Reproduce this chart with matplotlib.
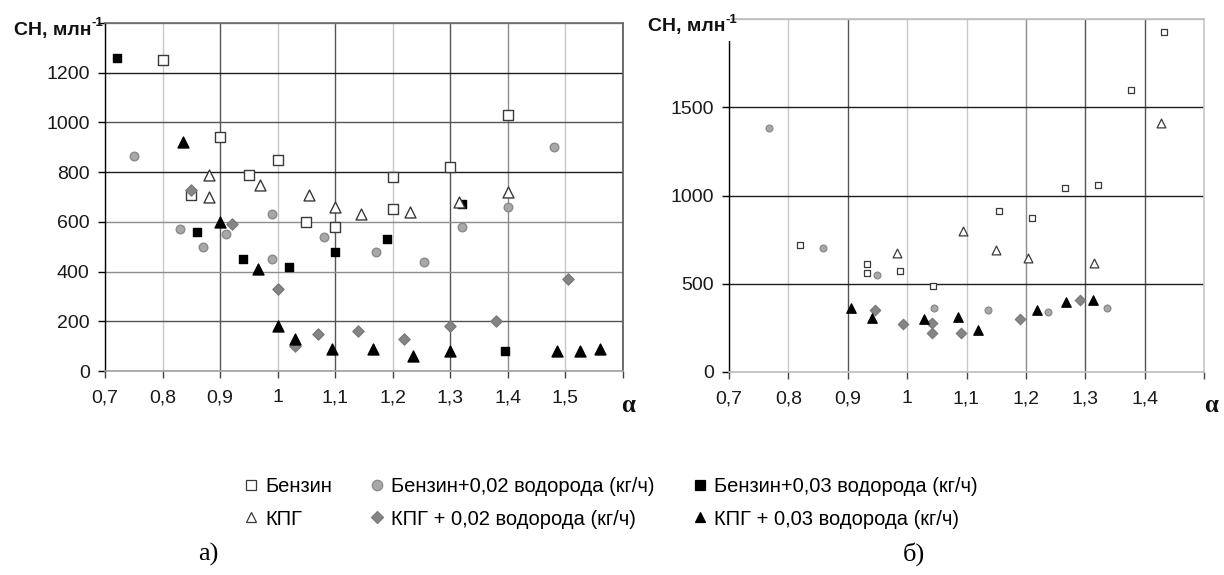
import matplotlib
matplotlib.use("Agg")
import matplotlib.pyplot as plt
from matplotlib.lines import Line2D

plt.rcParams["font.family"] = ["Liberation Sans", "DejaVu Sans"]

# ---- panel а) ----
a_benz_x = [0.80, 0.85, 0.90, 0.95, 1.00, 1.05, 1.10, 1.20, 1.20, 1.30, 1.40]
a_benz_y = [1250, 710, 940, 790, 850, 600, 580, 780, 650, 820, 1030]
a_benz002_x = [0.75, 0.83, 0.87, 0.91, 0.99, 0.99, 1.08, 1.17, 1.255, 1.32, 1.40, 1.48]
a_benz002_y = [865, 570, 500, 550, 630, 450, 540, 480, 440, 580, 660, 900]
a_benz003_x = [0.72, 0.86, 0.94, 1.02, 1.10, 1.19, 1.32, 1.395]
a_benz003_y = [1260, 560, 450, 420, 480, 530, 670, 80]
a_kpg_x = [0.88, 0.88, 0.97, 1.055, 1.10, 1.145, 1.23, 1.315, 1.40]
a_kpg_y = [790, 700, 750, 710, 660, 630, 640, 680, 720]
a_kpg002_x = [0.85, 0.92, 1.00, 1.03, 1.07, 1.14, 1.22, 1.30, 1.38, 1.505]
a_kpg002_y = [730, 590, 330, 100, 150, 160, 130, 180, 200, 370]
a_kpg003_x = [0.835, 0.90, 0.965, 1.00, 1.03, 1.095, 1.165, 1.235, 1.30, 1.485, 1.525, 1.56]
a_kpg003_y = [920, 600, 410, 180, 130, 90, 90, 60, 80, 80, 80, 90]

# ---- panel б) ----
b_benz_x = [0.82, 0.932, 0.932, 0.988, 1.043, 1.155, 1.21, 1.266, 1.321, 1.377, 1.433]
b_benz_y = [720, 610, 560, 570, 490, 910, 870, 1040, 1060, 1600, 1925]
b_benz002_x = [0.767, 0.858, 0.949, 1.045, 1.04, 1.136, 1.237, 1.336]
b_benz002_y = [1380, 700, 550, 360, 280, 350, 340, 360]
b_kpg_x = [0.983, 1.094, 1.149, 1.203, 1.314, 1.427]
b_kpg_y = [675, 800, 690, 645, 615, 1410]
b_kpg002_x = [0.946, 0.993, 1.042, 1.042, 1.09, 1.19, 1.291]
b_kpg002_y = [350, 270, 275, 220, 220, 300, 410]
b_kpg003_x = [0.905, 0.941, 1.028, 1.086, 1.119, 1.218, 1.267, 1.313]
b_kpg003_y = [360, 305, 300, 310, 240, 350, 395, 410]

a_xticks = [0.7, 0.8, 0.9, 1.0, 1.1, 1.2, 1.3, 1.4, 1.5, 1.6]
a_xlabels = ["0,7", "0,8", "0,9", "1", "1,1", "1,2", "1,3", "1,4", "1,5", ""]
a_yticks = [0, 200, 400, 600, 800, 1000, 1200, 1400]
a_ylabels = ["0", "200", "400", "600", "800", "1000", "1200", ""]
b_xticks = [0.7, 0.8, 0.9, 1.0, 1.1, 1.2, 1.3, 1.4, 1.5]
b_xlabels = ["0,7", "0,8", "0,9", "1", "1,1", "1,2", "1,3", "1,4", ""]
b_yticks = [0, 500, 1000, 1500, 2000]
b_ylabels = ["0", "500", "1000", "1500", ""]

series_labels = [
    "Бензин",
    "Бензин+0,02 водорода (кг/ч)",
    "Бензин+0,03 водорода (кг/ч)",
    "КПГ",
    "КПГ + 0,02 водорода (кг/ч)",
    "КПГ + 0,03 водорода (кг/ч)",
]

STYLES = [
    dict(marker="s", facecolors="white", edgecolors="#3a3a3a"),
    dict(marker="o", facecolors="#a8a8a8", edgecolors="#8a8a8a"),
    dict(marker="s", facecolors="black", edgecolors="black"),
    dict(marker="^", facecolors="white", edgecolors="#3a3a3a"),
    dict(marker="D", facecolors="#858585", edgecolors="#7a7a7a"),
    dict(marker="^", facecolors="black", edgecolors="black"),
]

W, H = 1224, 575
fig = plt.figure(figsize=(W / 100, H / 100), dpi=100)


def px_axes(x0, y0, x1, y1):
    return fig.add_axes([x0 / W, 1 - y1 / H, (x1 - x0) / W, (y1 - y0) / H])


def style_axes(ax, xt, xl, yt, yl, xlim, ylim, vcols, hcols, top_col, right_col, bottom_col):
    ax.set_xlim(*xlim)
    ax.set_ylim(*ylim)
    ax.set_xticks(xt)
    ax.set_xticklabels(xl)
    ax.set_yticks(yt)
    ax.set_yticklabels(yl)
    ax.grid(True, linewidth=1.0)
    ax.set_axisbelow(True)
    for gl, c in zip(ax.xaxis.get_gridlines(), vcols):
        gl.set_color(c)
    for gl, c in zip(ax.yaxis.get_gridlines(), hcols):
        gl.set_color(c)
    ax.spines["left"].set_color("black")
    ax.spines["left"].set_linewidth(1.0)
    ax.spines["top"].set_color(top_col)
    ax.spines["right"].set_color(right_col)
    ax.spines["bottom"].set_color(bottom_col)
    for s in ("top", "right", "bottom"):
        ax.spines[s].set_linewidth(1.2)
    ax.tick_params(axis="both", direction="out", length=5, width=1.0,
                   labelsize=14, colors="#1a1a1a")
    ax.tick_params(axis="y", pad=6, color="black")
    ax.tick_params(axis="x", pad=8, color="#444444")


LIGHT, MID, DARK, BLACK = "#c8c8c8", "#8c8c8c", "#555555", "#1e1e1e"

ax_a = px_axes(105, 23, 623, 371)
style_axes(ax_a, a_xticks, a_xlabels, a_yticks, a_ylabels, (0.7, 1.6), (0, 1400),
           [LIGHT, LIGHT, DARK, LIGHT, DARK, LIGHT, DARK, MID, LIGHT, DARK],
           [MID, DARK, MID, MID, BLACK, DARK, BLACK, MID],
           "#6a6a6a", "#555555", "#a0a0a0")

ax_b = px_axes(729, 19, 1204, 372)
style_axes(ax_b, b_xticks, b_xlabels, b_yticks, b_ylabels, (0.7, 1.5), (0, 2000),
           [LIGHT, LIGHT, DARK, LIGHT, LIGHT, MID, DARK, DARK, LIGHT],
           [LIGHT, BLACK, BLACK, BLACK, LIGHT],
           "#bdbdbd", "#c8c8c8", "#bdbdbd")

a_data = [(a_benz_x, a_benz_y), (a_benz002_x, a_benz002_y), (a_benz003_x, a_benz003_y),
          (a_kpg_x, a_kpg_y), (a_kpg002_x, a_kpg002_y), (a_kpg003_x, a_kpg003_y)]
a_sizes = [44, 38, 38, 62, 32, 62]
for (x, y), st, s in zip(a_data, STYLES, a_sizes):
    ax_a.scatter(x, y, s=s, linewidths=1.0, zorder=3, clip_on=False, **st)

b_data = [(b_benz_x, b_benz_y), (b_benz002_x, b_benz002_y), None,
          (b_kpg_x, b_kpg_y), (b_kpg002_x, b_kpg002_y), (b_kpg003_x, b_kpg003_y)]
b_sizes = [24, 24, 24, 40, 28, 46]
for d, st, s in zip(b_data, STYLES, b_sizes):
    if d is None:
        continue
    ax_b.scatter(d[0], d[1], s=s, linewidths=0.9, zorder=3, clip_on=False, **st)


# axis titles: "CH, млн" with a raised "-1"
def y_title(x_right, y_mid, boxed):
    kw = dict(fontsize=14, fontweight="bold", color="#111111")
    if boxed:
        kw["bbox"] = dict(facecolor="white", edgecolor="none", pad=4)
    fig.text((x_right - 10) / W, 1 - y_mid / H, "CH, млн", ha="right", va="center", **kw)
    fig.text((x_right - 10) / W, 1 - (y_mid - 7) / H, "-1", ha="left", va="center",
             fontsize=9.5, fontweight="bold", color="#111111")


y_title(101, 30, False)
y_title(735, 27, True)

for xpx in (628, 1211):
    fig.text(xpx / W, 1 - 405 / H, "α", ha="center", va="center", fontsize=18,
             fontweight="bold", family=["Liberation Serif", "DejaVu Serif"], color="#111111")

# legend
handles = []
for st in STYLES:
    handles.append(Line2D([], [], linestyle="none", marker=st["marker"],
                          markerfacecolor=st["facecolors"], markeredgecolor=st["edgecolors"],
                          markersize=7.5 if st["marker"] != "D" else 6.5, markeredgewidth=0.9))
order = [0, 3, 1, 4, 2, 5]
fig.legend([handles[i] for i in order], [series_labels[i] for i in order],
           loc="center", bbox_to_anchor=(611 / W, 1 - 503 / H), ncol=3, frameon=False,
           fontsize=14.5, handlelength=0.7, handletextpad=0.35, columnspacing=1.9,
           labelspacing=0.65, borderaxespad=0)

# panel captions
fig.text(208 / W, 1 - 554 / H, "а)", ha="center", va="center", fontsize=19,
         family=["Liberation Serif", "DejaVu Serif"])
fig.text(914 / W, 1 - 554 / H, "б)", ha="center", va="center", fontsize=19,
         family=["Liberation Serif", "DejaVu Serif"])

fig.savefig("out.png", dpi=100)
